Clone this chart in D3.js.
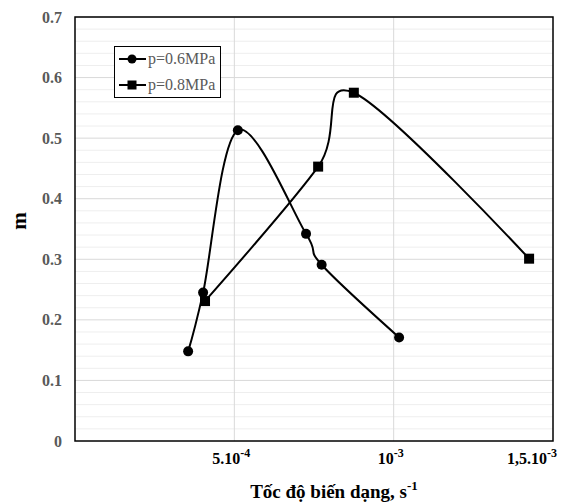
<!DOCTYPE html>
<html>
<head>
<meta charset="utf-8">
<script src="https://cdn.jsdelivr.net/npm/d3@7"></script>
<style>
  html, body { margin: 0; padding: 0; background: #fff; }
  svg { display: block; }
</style>
</head>
<body>
<svg id="chart" width="561" height="504"></svg>
<script>
// ---- data ----
const series1Name = "p=0.6MPa";
const series1X = [0.355e-3, 0.402e-3, 0.511e-3, 0.725e-3, 0.774e-3, 1.017e-3];
const series1Y = [0.148, 0.245, 0.513, 0.342, 0.291, 0.171];

const series2Name = "p=0.8MPa";
const series2X = [0.408e-3, 0.763e-3, 0.875e-3, 1.425e-3];
const series2Y = [0.231, 0.453, 0.575, 0.301];

const yTicks = [0, 0.1, 0.2, 0.3, 0.4, 0.5, 0.6, 0.7];
const xTicks = [5e-4, 1e-3, 1.5e-3];
const xTickBase = ["5.10", "10", "1,5.10"];
const xTickExp = ["-4", "-3", "-3"];
const yTitle = "m";
const xTitle = "Tốc độ biến dạng, s";
const xTitleExp = "-1";

// ---- layout ----
const svg = d3.select("#chart");
const L = 75, R = 553, T = 17, B = 441;
const x = d3.scaleLinear().domain([0, 1.5e-3]).range([L, R]);
const y = d3.scaleLinear().domain([0, 0.7]).range([B, T]);
const serif = "'Liberation Serif', 'Times New Roman', serif";

// minor gridlines
const minor = d3.range(0, 0.7001, 0.02).filter(v => Math.abs(v * 10 - Math.round(v * 10)) > 1e-6);
svg.append("g").selectAll("line").data(minor).join("line")
  .attr("x1", L).attr("x2", R)
  .attr("y1", d => y(d)).attr("y2", d => y(d))
  .attr("stroke", "#eeeeee").attr("stroke-width", 1);
// major gridlines
svg.append("g").selectAll("line").data(yTicks.slice(1)).join("line")
  .attr("x1", L).attr("x2", R)
  .attr("y1", d => y(d)).attr("y2", d => y(d))
  .attr("stroke", "#d9d9d9").attr("stroke-width", 1);
svg.append("g").selectAll("line").data(xTicks.slice(0, 2)).join("line")
  .attr("x1", d => x(d)).attr("x2", d => x(d))
  .attr("y1", T).attr("y2", B)
  .attr("stroke", "#d9d9d9").attr("stroke-width", 1);

// plot border
svg.append("rect").attr("x", L).attr("y", T).attr("width", R - L).attr("height", B - T)
  .attr("fill", "none").attr("stroke", "#000").attr("stroke-width", 1.5);

// y axis labels
const yAxis = d3.axisLeft(y).tickValues(yTicks).tickSize(0).tickPadding(13)
  .tickFormat(d => d === 0 ? "0" : d3.format(".1f")(d));
const gy = svg.append("g").attr("transform", `translate(${L},0)`).call(yAxis);
gy.select(".domain").remove();
gy.selectAll("text").attr("font-family", serif).attr("font-size", 16)
  .attr("font-weight", "bold").attr("fill", "#595959");

// x axis labels
const xAxis = d3.axisBottom(x).tickValues(xTicks).tickSize(0).tickFormat("");
const gx = svg.append("g").attr("transform", `translate(0,${B})`).call(xAxis);
gx.select(".domain").remove();
const xt = svg.append("g").selectAll("text").data(xTicks).join("text")
  .attr("x", (d, i) => i === 2 ? x(d) - 21 : x(d) - 3)
  .attr("y", 464)
  .attr("text-anchor", "middle")
  .attr("font-family", serif).attr("font-size", 16).attr("font-weight", "bold").attr("fill", "#000");
xt.append("tspan").text((d, i) => xTickBase[i]);
xt.append("tspan").attr("dy", -7).attr("font-size", 12).text((d, i) => xTickExp[i]);

// axis titles
svg.append("text").attr("transform", "translate(26,221) rotate(-90)")
  .attr("text-anchor", "middle").attr("font-family", serif).attr("font-size", 21)
  .attr("font-weight", "bold").attr("fill", "#000").text(yTitle);
const tt = svg.append("text").attr("x", 334).attr("y", 498).attr("text-anchor", "middle")
  .attr("font-family", serif).attr("font-size", 19).attr("font-weight", "bold").attr("fill", "#000");
tt.append("tspan").text(xTitle);
tt.append("tspan").attr("dy", -8).attr("font-size", 13).text(xTitleExp);

// lines
const line = d3.line().x(d => x(d[0])).y(d => y(d[1])).curve(d3.curveCardinal.tension(0));
const d1 = series1X.map((v, i) => [v, series1Y[i]]);
const d2 = series2X.map((v, i) => [v, series2Y[i]]);
svg.append("path").attr("d", line(d1)).attr("fill", "none").attr("stroke", "#000").attr("stroke-width", 2);
svg.append("path").attr("d", line(d2)).attr("fill", "none").attr("stroke", "#000").attr("stroke-width", 2);

// markers
svg.append("g").selectAll("circle").data(d1).join("circle")
  .attr("cx", d => x(d[0])).attr("cy", d => y(d[1])).attr("r", 5).attr("fill", "#000");
svg.append("g").selectAll("rect").data(d2).join("rect")
  .attr("x", d => x(d[0]) - 5).attr("y", d => y(d[1]) - 5).attr("width", 10).attr("height", 10).attr("fill", "#000");

// legend
const lg = svg.append("g");
lg.append("rect").attr("x", 114.5).attr("y", 46.5).attr("width", 106).attr("height", 51)
  .attr("fill", "#fff").attr("stroke", "#000").attr("stroke-width", 1);
const legendItems = [series1Name, series2Name];
legendItems.forEach((name, i) => {
  const ly = 59 + i * 26;
  lg.append("line").attr("x1", 119).attr("x2", 146).attr("y1", ly).attr("y2", ly)
    .attr("stroke", "#000").attr("stroke-width", 2);
  if (i === 0) lg.append("circle").attr("cx", 132).attr("cy", ly).attr("r", 4.5).attr("fill", "#000");
  else lg.append("rect").attr("x", 127.5).attr("y", ly - 4.5).attr("width", 9).attr("height", 9).attr("fill", "#000");
  lg.append("text").attr("x", 148).attr("y", ly + 5).attr("font-family", serif).attr("font-size", 16)
    .attr("fill", "#595959").text(name);
});
</script>
</body>
</html>
